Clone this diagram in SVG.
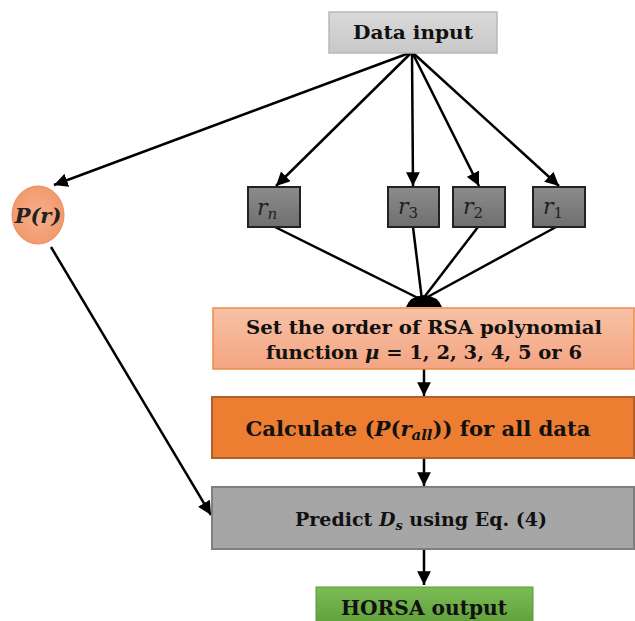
<svg xmlns="http://www.w3.org/2000/svg" width="635" height="621" viewBox="0 0 635 621">
<defs>
<marker id="ah" viewBox="0 0 10 10" refX="10" refY="5" markerWidth="5.5" markerHeight="5.5" markerUnits="strokeWidth" orient="auto">
<path d="M0,0 L10,5 L0,10 z" fill="#000"/>
</marker>
<linearGradient id="gIn" x1="0" y1="0" x2="0" y2="1"><stop offset="0" stop-color="#d9d9d9"/><stop offset="1" stop-color="#c8c8c8"/></linearGradient>
<linearGradient id="gR" x1="0" y1="0" x2="0" y2="1"><stop offset="0" stop-color="#8c8c8c"/><stop offset="1" stop-color="#6f6f6f"/></linearGradient>
<linearGradient id="gSal" x1="0" y1="0" x2="0" y2="1"><stop offset="0" stop-color="#f8c1a6"/><stop offset="1" stop-color="#f4a582"/></linearGradient>
<linearGradient id="gGr" x1="0" y1="0" x2="0" y2="1"><stop offset="0" stop-color="#7cbc55"/><stop offset="1" stop-color="#5e9e3a"/></linearGradient>
<radialGradient id="gC" cx="0.5" cy="0.5" r="0.5"><stop offset="0" stop-color="#f6b08c"/><stop offset="1" stop-color="#f19a6e"/></radialGradient>
</defs>
<style>
.t{font-family:"DejaVu Serif","Liberation Serif",serif;font-weight:bold;fill:#111;text-anchor:middle}
.m{font-family:"DejaVu Serif","Liberation Serif",serif;font-style:italic;fill:#222}
.c{stroke:#000;stroke-width:2.5;fill:none;marker-end:url(#ah)}
.l{stroke:#000;stroke-width:2.5;fill:none}
.rb{fill:url(#gR);stroke:#222;stroke-width:2}
</style>
<g id="connectors">
<line class="c" x1="412" y1="52" x2="54" y2="185"/>
<line class="c" x1="412" y1="52" x2="276" y2="186"/>
<line class="c" x1="412" y1="52" x2="413" y2="186"/>
<line class="c" x1="412" y1="52" x2="479" y2="186"/>
<line class="c" x1="412" y1="52" x2="559" y2="186"/>
<line class="l" x1="275" y1="227" x2="422" y2="300"/>
<line class="l" x1="413" y1="227" x2="422" y2="300"/>
<line class="l" x1="478" y1="227" x2="422" y2="300"/>
<line class="l" x1="556" y1="227" x2="422" y2="300"/>
<path d="M406,307 Q410,296 424,295 Q438,296 442,307 Z" fill="#000"/>
<line class="c" x1="424" y1="369" x2="424" y2="396"/>
<line class="c" x1="424" y1="458" x2="424" y2="486"/>
<line class="c" x1="51" y1="247" x2="211" y2="515"/>
<line class="c" x1="424" y1="549" x2="424" y2="585"/>
</g>
<g id="data-input">
<rect x="329" y="12" width="168" height="41" fill="url(#gIn)" stroke="#b8b8b8" stroke-width="1.5"/>
<text class="t" x="413" y="39" font-size="18" textLength="120" lengthAdjust="spacingAndGlyphs">Data input</text>
</g>
<g id="p-r">
<ellipse cx="38" cy="215" rx="26" ry="29" fill="url(#gC)" stroke="#f08a5d" stroke-width="1"/>
<text class="m" x="38" y="223" font-size="21" font-weight="bold" text-anchor="middle">P(r)</text>
</g>
<g id="r-n">
<rect class="rb" x="248" y="187" width="52" height="40"/>
<text class="m" x="257" y="215" font-size="22">r<tspan font-size="15" dy="4">n</tspan></text>
</g>
<g id="r-3">
<rect class="rb" x="388" y="187" width="51" height="40"/>
<text class="m" x="398" y="214" font-size="22">r<tspan font-size="15" dy="4" font-style="normal">3</tspan></text>
</g>
<g id="r-2">
<rect class="rb" x="453" y="187" width="52" height="40"/>
<text class="m" x="463" y="214" font-size="22">r<tspan font-size="15" dy="4" font-style="normal">2</tspan></text>
</g>
<g id="r-1">
<rect class="rb" x="533" y="187" width="52" height="40"/>
<text class="m" x="543" y="214" font-size="22">r<tspan font-size="15" dy="4" font-style="normal">1</tspan></text>
</g>
<g id="set-order">
<rect x="213" y="308" width="421" height="61" fill="url(#gSal)" stroke="#ee8a4a" stroke-width="1.5"/>
<text class="t" x="424" y="334" font-size="19" textLength="356" lengthAdjust="spacingAndGlyphs">Set the order of RSA polynomial</text>
<text class="t" x="424" y="359" font-size="19" textLength="316" lengthAdjust="spacingAndGlyphs">function <tspan font-style="italic">μ</tspan> = 1, 2, 3, 4, 5 or 6</text>
</g>
<g id="calculate">
<rect x="212" y="397" width="422" height="61" fill="#ed7d31" stroke="#b0602a" stroke-width="2"/>
<text class="t" x="418" y="436" font-size="20" textLength="345" lengthAdjust="spacingAndGlyphs">Calculate (<tspan font-style="italic">P</tspan>(<tspan font-style="italic">r</tspan><tspan font-style="italic" font-size="14" dy="4">all</tspan><tspan dy="-4">)) for all data</tspan></text>
</g>
<g id="predict">
<rect x="212" y="487" width="422" height="62" fill="#a6a6a6" stroke="#7f7f7f" stroke-width="2"/>
<text class="t" x="421" y="526" font-size="19">Predict <tspan font-style="italic">D</tspan><tspan font-style="italic" font-size="13" dy="4">s</tspan><tspan dy="-4"> using Eq. (4)</tspan></text>
</g>
<g id="horsa-output">
<rect x="316" y="587" width="217" height="40" fill="url(#gGr)" stroke="#5a9a38" stroke-width="1"/>
<text class="t" x="424" y="615" font-size="20" textLength="166" lengthAdjust="spacingAndGlyphs">HORSA output</text>
</g>
</svg>
